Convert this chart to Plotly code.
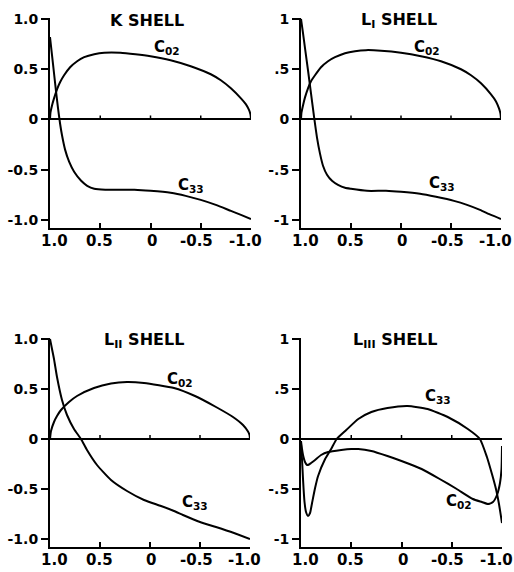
import plotly.graph_objects as go

# ---------------- data ----------------
x_ticks = [1.0, 0.5, 0.0, -0.5, -1.0]
x_ticktext = ["1.0", "0.5", "0", "-0.5", "-1.0"]
y_ticks = [-1.0, -0.5, 0.0, 0.5, 1.0]
y_ticktext_long = ["-1.0", "-0.5", "0", "0.5", "1.0"]
y_ticktext_short = ["-1", "-.5", "0", ".5", "1"]
inner_ticks = [0.5, 0.0, -0.5]

titles = ["K SHELL", "L<sub>I</sub> SHELL", "L<sub>II</sub> SHELL", "L<sub>III</sub> SHELL"]

# K shell
k_c02_x = [1.0, 0.995, 0.98, 0.96, 0.93, 0.9, 0.86, 0.8, 0.73, 0.66, 0.56, 0.46, 0.3, 0.15, 0.0,
           -0.2, -0.4, -0.6, -0.7, -0.8, -0.9, -0.95, -0.98, -0.995, -1.0]
k_c02_y = [0.0, 0.07, 0.14, 0.21, 0.30, 0.37, 0.44, 0.52, 0.58, 0.62, 0.65, 0.665, 0.665, 0.65, 0.63,
           0.59, 0.53, 0.45, 0.39, 0.31, 0.21, 0.15, 0.095, 0.05, 0.0]
k_c33_x = [1.0, 0.98, 0.96, 0.94, 0.92, 0.9, 0.88, 0.85, 0.81, 0.76, 0.69, 0.63, 0.56, 0.45,
           0.3, 0.16, 0.0, -0.2, -0.35, -0.5, -0.65, -0.8, -0.9, -1.0]
k_c33_y = [0.82, 0.64, 0.46, 0.28, 0.11, -0.04, -0.16, -0.30, -0.42, -0.52, -0.61, -0.66, -0.69, -0.70,
           -0.70, -0.70, -0.71, -0.73, -0.76, -0.80, -0.85, -0.91, -0.95, -0.99]

# L_I shell
l1_c02_x = [1.0, 0.995, 0.98, 0.96, 0.93, 0.9, 0.86, 0.8, 0.73, 0.66, 0.56, 0.46, 0.35, 0.2, 0.0,
            -0.2, -0.4, -0.6, -0.7, -0.8, -0.9, -0.95, -0.98, -0.995, -1.0]
l1_c02_y = [0.0, 0.07, 0.14, 0.22, 0.31, 0.38, 0.44, 0.52, 0.58, 0.62, 0.66, 0.68, 0.69, 0.685, 0.665,
            0.63, 0.58, 0.50, 0.44, 0.36, 0.25, 0.18, 0.11, 0.056, 0.0]
l1_c33_x = [1.0, 0.98, 0.96, 0.93, 0.90, 0.87, 0.84, 0.81, 0.78, 0.74, 0.69, 0.63, 0.56, 0.5, 0.34, 0.15, 0.0,
            -0.19, -0.35, -0.53, -0.66, -0.79, -0.9, -1.0]
l1_c33_y = [1.0, 0.86, 0.71, 0.49, 0.26, 0.03, -0.18, -0.34, -0.46, -0.55, -0.61, -0.65, -0.68, -0.69, -0.71,
            -0.71, -0.72, -0.74, -0.77, -0.81, -0.85, -0.90, -0.95, -0.99]

# L_II shell
l2_c02_x = [1.0, 0.99, 0.96, 0.93, 0.89, 0.81, 0.73, 0.56, 0.39, 0.23, 0.06, -0.24, -0.45, -0.66,
            -0.83, -0.93, -0.98, -0.995, -1.0]
l2_c02_y = [0.0, 0.08, 0.17, 0.23, 0.29, 0.37, 0.43, 0.51, 0.555, 0.57, 0.56, 0.51, 0.43, 0.32,
            0.22, 0.14, 0.075, 0.04, 0.0]
l2_c33_x = [1.0, 0.98, 0.96, 0.93, 0.88, 0.83, 0.76, 0.69, 0.63, 0.53, 0.39, 0.23, 0.06, -0.11, -0.24,
            -0.33, -0.5, -0.66, -0.84, -1.0]
l2_c33_y = [1.0, 0.90, 0.80, 0.62, 0.39, 0.24, 0.10, 0.0, -0.11, -0.26, -0.41, -0.52, -0.61, -0.67, -0.72,
            -0.76, -0.83, -0.88, -0.94, -1.0]

# L_III shell
l3_c02_x = [1.0, 0.99, 0.98, 0.96, 0.94, 0.92, 0.9, 0.86, 0.8, 0.73, 0.6, 0.5, 0.43, 0.3, 0.14, 0.0,
            -0.2, -0.38, -0.55, -0.71, -0.8, -0.86, -0.91, -0.95, -0.98, -0.995, -1.0]
l3_c02_y = [-0.02, -0.1, -0.16, -0.23, -0.26, -0.255, -0.24, -0.21, -0.16, -0.13, -0.11, -0.10, -0.10, -0.12,
            -0.17, -0.22, -0.30, -0.40, -0.50, -0.60, -0.63, -0.65, -0.63, -0.56, -0.44, -0.30, -0.07]
l3_c33_x = [1.0, 0.99, 0.98, 0.965, 0.95, 0.93, 0.91, 0.89, 0.86, 0.83, 0.76, 0.70, 0.645, 0.56, 0.43,
            0.3, 0.14, -0.06, -0.26, -0.46, -0.66, -0.78, -0.85, -0.9, -0.94, -0.97, -1.0]
l3_c33_y = [-0.05, -0.2, -0.40, -0.63, -0.73, -0.77, -0.74, -0.64, -0.49, -0.37, -0.20, -0.10, 0.0, 0.08,
            0.20, 0.27, 0.31, 0.33, 0.30, 0.22, 0.10, 0.0, -0.18, -0.35, -0.50, -0.65, -0.84]

series = [
    (k_c02_x, k_c02_y, k_c33_x, k_c33_y),
    (l1_c02_x, l1_c02_y, l1_c33_x, l1_c33_y),
    (l2_c02_x, l2_c02_y, l2_c33_x, l2_c33_y),
    (l3_c02_x, l3_c02_y, l3_c33_x, l3_c33_y),
]

# curve label positions (data coords): (C02 x, C02 y, C33 x, C33 y)
label_pos = [
    (-0.16, 0.72, -0.40, -0.66),
    (-0.26, 0.72, -0.41, -0.64),
    (-0.30, 0.59, -0.45, -0.64),
    (-0.57, -0.63, -0.36, 0.42),
]

# ---------------- layout geometry (pixels) ----------------
W, H = 514, 572
px_x = [(50, 251), (301, 501), (50, 250), (301, 502)]
px_y = [(18, 228), (18, 228), (338, 547), (338, 547)]
title_px = [(147, 21), (399, 21), (144, 340), (395, 340)]
# hand-lettered x labels sit slightly off their ticks (minus signs hang left)
x_label_shift = [4, -1, 1, -4, -6]

FONT = "DejaVu Sans"

fig = go.Figure()
for i in range(4):
    sfx = "" if i == 0 else str(i + 1)
    xa, ya = "x" + sfx, "y" + sfx
    c02x, c02y, c33x, c33y = series[i]
    for xs, ys in ((c02x, c02y), (c33x, c33y)):
        fig.add_trace(go.Scatter(x=xs, y=ys, mode="lines", xaxis=xa, yaxis=ya,
                                 line=dict(color="black", width=2, shape="spline", smoothing=0.5),
                                 showlegend=False, hoverinfo="skip"))
    x0, x1 = px_x[i]
    y0, y1 = px_y[i]
    fig.update_layout(**{
        "xaxis" + sfx: dict(domain=[x0 / W, x1 / W], range=[1.0, -1.0], anchor=ya,
                            showline=True, linecolor="black", linewidth=2,
                            ticks="inside", ticklen=5, tickwidth=1.5, tickcolor="black",
                            tickvals=x_ticks, showticklabels=False,
                            showgrid=False, zeroline=False, fixedrange=True),
        "yaxis" + sfx: dict(domain=[(H - y1) / H, (H - y0) / H], range=[-1.08, 1.01], anchor=xa,
                            showline=True, linecolor="black", linewidth=2,
                            ticks="outside", ticklen=7, tickwidth=1.5, tickcolor="black",
                            tickvals=y_ticks,
                            ticktext=y_ticktext_long if i in (0, 2) else y_ticktext_short,
                            showgrid=False, zeroline=True, zerolinecolor="black", zerolinewidth=1.5,
                            ticklabeloverflow="allow",
                            tickfont=dict(family=FONT, size=14, color="black", weight="bold"),
                            fixedrange=True),
    })
    # x tick labels
    for t, txt, sh in zip(x_ticks, x_ticktext, x_label_shift):
        fig.add_annotation(text=txt, xref=xa, yref=ya + " domain", x=t, y=0,
                           xanchor="center", yanchor="middle", xshift=sh, yshift=-12.5,
                           showarrow=False,
                           font=dict(family=FONT, size=15, color="black", weight="bold"))
    # small ticks on the zero line
    for t in inner_ticks:
        fig.add_shape(type="line", xref=xa, yref=ya, x0=t, x1=t, y0=0, y1=0.04,
                      line=dict(color="black", width=1.5))
    # panel title
    tx, ty = title_px[i]
    fig.add_annotation(text=titles[i], xref="paper", yref="paper", x=tx / W, y=(H - ty) / H,
                       xanchor="center", yanchor="middle", showarrow=False,
                       font=dict(family=FONT, size=16, color="black", weight="bold"))
    # curve labels
    a, b, c, d = label_pos[i]
    fig.add_annotation(text="C<sub>02</sub>", xref=xa, yref=ya, x=a, y=b, showarrow=False,
                       font=dict(family=FONT, size=15, color="black", weight="bold"))
    fig.add_annotation(text="C<sub>33</sub>", xref=xa, yref=ya, x=c, y=d, showarrow=False,
                       font=dict(family=FONT, size=15, color="black", weight="bold"))

fig.update_layout(width=W, height=H,
                  margin=dict(l=0, r=0, t=0, b=0, autoexpand=False),
                  paper_bgcolor="white", plot_bgcolor="white", showlegend=False)

fig.write_html("out.html", config={"displayModeBar": False},
               post_script="document.body.style.margin='0';document.body.style.overflow='hidden';")
